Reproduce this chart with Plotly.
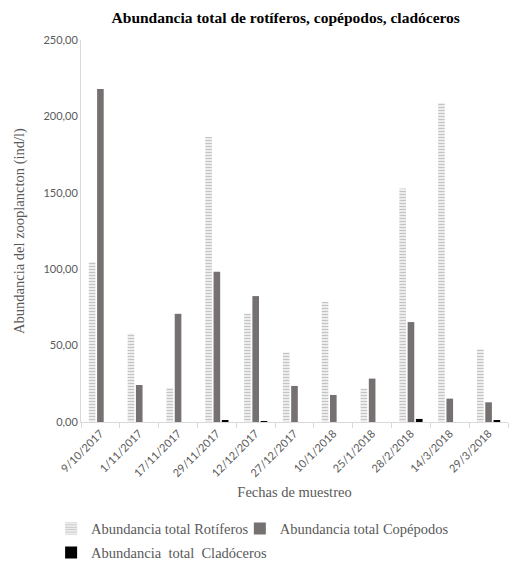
import plotly.graph_objects as go

# Sampling dates and abundance (ind/l) per zooplankton group
fechas = ["9/10/2017", "1/11/2017", "17/11/2017", "29/11/2017", "12/12/2017",
          "27/12/2017", "10/1/2018", "25/1/2018", "28/2/2018", "14/3/2018", "29/3/2018"]
rotiferos = [104.7, 57.8, 22.3, 186.5, 71.0, 45.6, 78.6, 21.8, 152.8, 208.8, 47.8]
copepodos = [218.0, 24.2, 70.8, 98.4, 82.4, 23.6, 17.7, 28.4, 65.4, 15.3, 12.9]
cladoceros = [0.0, 0.0, 0.0, 1.2, 0.5, 0.0, 0.0, 0.0, 2.0, 0.0, 1.1]

y_ticks = [0, 50, 100, 150, 200, 250]

serif = "Liberation Serif"
sans = "Lato"
grey_text = "#595959"

fig = go.Figure()
fig.add_trace(go.Bar(
    name="Abundancia total Rotíferos", x=fechas, y=rotiferos, legend="legend",
    marker=dict(color="white", line=dict(width=0),
                pattern=dict(shape="-", fgcolor="#c4c4c4", size=3, solidity=0.55,
                             fillmode="replace")),
))
fig.add_trace(go.Bar(
    name="Abundancia total Copépodos", x=fechas, y=copepodos, legend="legend2",
    marker=dict(color="#767171", line=dict(width=0)),
))
fig.add_trace(go.Bar(
    name="Abundancia  total  Cladóceros", x=fechas, y=cladoceros, legend="legend3",
    marker=dict(color="#000000", line=dict(width=0)),
))

legend_style = dict(orientation="h", xanchor="left", yanchor="top",
                    font=dict(family=serif, size=14.5, color=grey_text),
                    itemwidth=30, bgcolor="rgba(0,0,0,0)")

fig.update_layout(
    width=513, height=561,
    margin=dict(l=81, r=5, t=40, b=139, autoexpand=False),
    paper_bgcolor="white", plot_bgcolor="white",
    separators=",.",
    barmode="group", bargap=0.36, bargroupgap=0.2,
    title=dict(text="<b>Abundancia total de rotíferos, copépodos, cladóceros</b>",
               x=0.557, xanchor="center", y=0.968, yanchor="middle",
               font=dict(family=serif, size=15.5, color="#000000")),
    showlegend=True,
    legend=dict(x=-0.07, y=-0.237, **legend_style),
    legend2=dict(x=0.372, y=-0.237, **legend_style),
    legend3=dict(x=-0.07, y=-0.300, **legend_style),
)

fig.update_yaxes(
    range=[0, 250], tickvals=y_ticks, tickformat=".2f",
    showgrid=False, zeroline=False,
    showline=True, linecolor="#d9d9d9", linewidth=1,
    ticks="", tickfont=dict(family=sans, size=11, color=grey_text),
    title=dict(text="Abundancia del zooplancton (ind/l)",
               font=dict(family=serif, size=14.5, color=grey_text), standoff=15),
    automargin=False,
)
fig.update_xaxes(
    type="category", showgrid=False,
    showline=True, linecolor="#d9d9d9", linewidth=1,
    ticks="outside", tickson="boundaries", ticklen=5, tickcolor="#d9d9d9",
    tickangle=-45, tickfont=dict(family=sans, size=11, color=grey_text),
    title=dict(text="Fechas de muestreo",
               font=dict(family=serif, size=14.5, color=grey_text), standoff=8),
    automargin=False,
)

fig.write_html("out.html")
